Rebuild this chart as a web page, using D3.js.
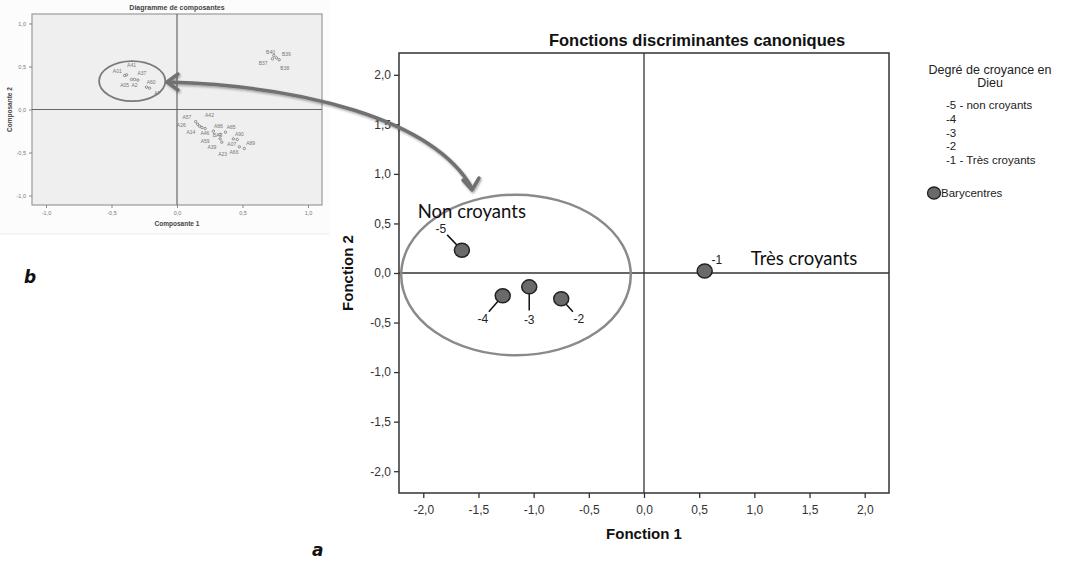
<!DOCTYPE html>
<html>
<head>
<meta charset="utf-8">
<script src="https://cdn.jsdelivr.net/npm/d3@7"></script>
<style>
  body { margin: 0; background: #fff; }
  svg { display: block; font-family: "Liberation Sans", Arial, sans-serif; }
</style>
</head>
<body>
<div id="chart-area"></div>
<script>

// ---- data : main chart (canonical discriminant functions) ----
var groups    = ["-5", "-4", "-3", "-2", "-1"];
var centroidX = [-1.65, -1.28, -1.04, -0.75, 0.55];
var centroidY = [0.23, -0.23, -0.14, -0.26, 0.02];
var labelX    = [-1.84, -1.46, -1.04, -0.59, 0.66];
var labelY    = [0.45, -0.46, -0.47, -0.46, 0.13];
var mainTicks = [-2.0, -1.5, -1.0, -0.5, 0.0, 0.5, 1.0, 1.5, 2.0];
var legendItems = ["-5 - non croyants", "-4", "-3", "-2", "-1 - Très croyants"];

// ---- data : inset (component plot) ----
var insetTicks = [-1.0, -0.5, 0.0, 0.5, 1.0];
var insetLabels = [
  ["A41", -0.347, 0.516], ["A01", -0.456, 0.442], ["A37", -0.268, 0.419],
  ["A05", -0.40, 0.287], ["A2", -0.324, 0.287], ["A60", -0.197, 0.318], ["A7", -0.150, 0.186],
  ["B40", 0.714, 0.667], ["B39", 0.835, 0.640], ["B37", 0.658, 0.543], ["B38", 0.823, 0.484],
  ["A57", 0.076, -0.085], ["A42", 0.248, -0.062], ["A26", 0.033, -0.186], ["A88", 0.316, -0.194],
  ["A85", 0.413, -0.205], ["A14", 0.106, -0.264], ["A46", 0.213, -0.279], ["BA3", 0.309, -0.302],
  ["A90", 0.476, -0.287], ["A59", 0.215, -0.364], ["A07", 0.418, -0.399], ["A89", 0.562, -0.388],
  ["A39", 0.266, -0.434], ["A23", 0.349, -0.516], ["A66", 0.435, -0.496]
];
var insetPoints = [
  [-0.40, 0.395], [-0.385, 0.403], [-0.347, 0.349], [-0.324, 0.349], [-0.299, 0.341],
  [-0.233, 0.26], [-0.21, 0.248],
  [0.739, 0.628], [0.759, 0.60], [0.78, 0.578], [0.729, 0.589],
  [0.142, -0.14], [0.157, -0.171], [0.172, -0.194], [0.19, -0.209], [0.215, -0.221],
  [0.278, -0.252], [0.37, -0.264], [0.329, -0.29], [0.329, -0.341], [0.342, -0.38],
  [0.43, -0.341], [0.46, -0.349], [0.476, -0.434], [0.514, -0.453]
];

var fmt = function(d) { return d3.format(".1f")(d).replace(".", ",").replace("−", "-"); };

var svg = d3.select("#chart-area").append("svg")
    .attr("width", 1078)
    .attr("height", 566);

svg.append("rect").attr("width", 1078).attr("height", 566).attr("fill", "#fff");

// ================= main chart =================
var margin = {top: 53, left: 399};
var width = 490, height = 440;

var x = d3.scaleLinear().domain([-2.22, 2.22]).range([0, width]);
var y = d3.scaleLinear().domain([-2.22, 2.22]).range([height, 0]);

var g = svg.append("g")
    .attr("transform", "translate(" + margin.left + "," + margin.top + ")");

g.append("g")
    .attr("class", "axis x-axis")
    .attr("transform", "translate(0," + height + ")")
    .call(d3.axisBottom(x).tickValues(mainTicks).tickFormat(fmt).tickSize(5).tickSizeOuter(0));

g.append("g")
    .attr("class", "axis y-axis")
    .call(d3.axisLeft(y).tickValues(mainTicks).tickFormat(fmt).tickSize(5).tickSizeOuter(0));

g.selectAll(".axis path").remove();
g.selectAll(".axis line").attr("stroke", "#333").attr("stroke-width", 1.3);
g.selectAll(".axis text")
    .attr("fill", "#333")
    .style("font-size", "12px");
g.selectAll(".x-axis text").attr("dy", "1.1em");

// frame + zero lines
g.append("rect")
    .attr("width", width).attr("height", height)
    .attr("fill", "none").attr("stroke", "#333").attr("stroke-width", 1.5);
g.append("line")
    .attr("x1", x(0)).attr("x2", x(0)).attr("y1", 0).attr("y2", height)
    .attr("stroke", "#333").attr("stroke-width", 1.3);
g.append("line")
    .attr("x1", 0).attr("x2", width).attr("y1", y(0)).attr("y2", y(0))
    .attr("stroke", "#333").attr("stroke-width", 1.3);

// big ellipse round the non believers
g.append("ellipse")
    .attr("cx", x(-1.16)).attr("cy", y(-0.02))
    .attr("rx", x(1.04) - x(0)).attr("ry", y(0) - y(0.81))
    .attr("fill", "none").attr("stroke", "#8a8a8a").attr("stroke-width", 2.5);

// leader lines, points and labels
var pts = groups.map(function(d, i) {
  return {g: d, x: centroidX[i], y: centroidY[i], lx: labelX[i], ly: labelY[i]};
});

g.selectAll(".leader").data(pts).enter().append("line")
    .attr("class", "leader")
    .attr("x1", function(d) { return x(d.x); })
    .attr("y1", function(d) { return y(d.y); })
    .attr("x2", function(d) {
      var dx = x(d.lx) - x(d.x), dy = y(d.ly) - y(d.y), l = Math.sqrt(dx*dx + dy*dy);
      return x(d.x) + dx * (l - 9) / l;
    })
    .attr("y2", function(d) {
      var dx = x(d.lx) - x(d.x), dy = y(d.ly) - y(d.y), l = Math.sqrt(dx*dx + dy*dy);
      return y(d.y) + dy * (l - 9) / l;
    })
    .attr("stroke", "#111").attr("stroke-width", 1.5);

g.selectAll(".dot").data(pts).enter().append("ellipse")
    .attr("class", "dot")
    .attr("cx", function(d) { return x(d.x); })
    .attr("cy", function(d) { return y(d.y); })
    .attr("rx", 7.5).attr("ry", 7)
    .attr("fill", "#6a6a6a").attr("stroke", "#222").attr("stroke-width", 1.5);

g.selectAll(".plabel").data(pts).enter().append("text")
    .attr("class", "plabel")
    .attr("x", function(d) { return x(d.lx); })
    .attr("y", function(d) { return y(d.ly); })
    .attr("dy", "0.35em")
    .attr("text-anchor", "middle")
    .style("font-size", "12px")
    .attr("fill", "#222")
    .text(function(d) { return d.g; });

// annotations
g.append("text")
    .attr("x", x(-1.56)).attr("y", y(0.56))
    .attr("text-anchor", "middle")
    .style("font-family", "Lato, sans-serif").style("font-size", "18.5px")
    .attr("fill", "#111")
    .text("Non croyants");
g.append("text")
    .attr("x", x(1.45)).attr("y", y(0.08))
    .attr("text-anchor", "middle")
    .style("font-family", "Lato, sans-serif").style("font-size", "18.5px")
    .attr("fill", "#111")
    .text("Très croyants");

// titles
svg.append("text")
    .attr("x", 697).attr("y", 46)
    .attr("text-anchor", "middle")
    .style("font-size", "16.5px").style("font-weight", "bold")
    .attr("fill", "#111")
    .text("Fonctions discriminantes canoniques");
svg.append("text")
    .attr("x", margin.left + x(0)).attr("y", 539)
    .attr("text-anchor", "middle")
    .style("font-size", "15px").style("font-weight", "bold")
    .attr("fill", "#111")
    .text("Fonction 1");
svg.append("text")
    .attr("transform", "translate(353," + (margin.top + y(0)) + ") rotate(-90)")
    .attr("text-anchor", "middle")
    .style("font-size", "15px").style("font-weight", "bold")
    .attr("fill", "#111")
    .text("Fonction 2");

// legend
var legend = svg.append("g").attr("transform", "translate(946,0)");
legend.append("text").attr("x", 44).attr("y", 74).attr("text-anchor", "middle")
    .style("font-size", "12.5px").attr("fill", "#222").text("Degré de croyance en");
legend.append("text").attr("x", 44).attr("y", 87).attr("text-anchor", "middle")
    .style("font-size", "12.5px").attr("fill", "#222").text("Dieu");
legend.selectAll(".item").data(legendItems).enter().append("text")
    .attr("class", "item")
    .attr("x", 0)
    .attr("y", function(d, i) { return 109 + i * 13.8; })
    .style("font-size", "11.5px").attr("fill", "#222")
    .text(function(d) { return d; });
legend.append("ellipse").attr("cx", -12).attr("cy", 193).attr("rx", 6.5).attr("ry", 6)
    .attr("fill", "#6a6a6a").attr("stroke", "#222").attr("stroke-width", 1.3);
legend.append("text").attr("x", -5).attr("y", 197)
    .style("font-size", "11.5px").attr("fill", "#222").text("Barycentres");

// ================= inset (b) =================
var inset = {left: 32, top: 14, w: 290, h: 191};
var ix = d3.scaleLinear().domain([-1.107, 1.107]).range([0, inset.w]);
var iy = d3.scaleLinear().domain([-1.11, 1.11]).range([inset.h, 0]);

svg.append("rect").attr("x", 0).attr("y", 0).attr("width", 330).attr("height", 234)
    .attr("fill", "#fcfcfc");
svg.append("line").attr("x1", 0).attr("x2", 330).attr("y1", 234).attr("y2", 234)
    .attr("stroke", "#eeeeee");

var gi = svg.append("g").attr("transform", "translate(" + inset.left + "," + inset.top + ")");
gi.append("rect").attr("width", inset.w).attr("height", inset.h)
    .attr("fill", "#efefef").attr("stroke", "#9a9a9a").attr("stroke-width", 1.2);

gi.append("g").attr("class", "iaxis")
    .attr("transform", "translate(0," + inset.h + ")")
    .call(d3.axisBottom(ix).tickValues(insetTicks).tickFormat(fmt).tickSize(3).tickSizeOuter(0));
gi.append("g").attr("class", "iaxis")
    .call(d3.axisLeft(iy).tickValues(insetTicks).tickFormat(fmt).tickSize(3).tickSizeOuter(0));
gi.selectAll(".iaxis path").remove();
gi.selectAll(".iaxis line").attr("stroke", "#888");
gi.selectAll(".iaxis text").attr("fill", "#777").style("font-size", "5.5px");

gi.append("line").attr("x1", ix(0)).attr("x2", ix(0)).attr("y1", 0).attr("y2", inset.h)
    .attr("stroke", "#666").attr("stroke-width", 1.2);
gi.append("line").attr("x1", 0).attr("x2", inset.w).attr("y1", iy(0)).attr("y2", iy(0))
    .attr("stroke", "#666").attr("stroke-width", 1.2);

gi.selectAll(".ipt").data(insetPoints).enter().append("circle")
    .attr("cx", function(d) { return ix(d[0]); })
    .attr("cy", function(d) { return iy(d[1]); })
    .attr("r", 1.2)
    .attr("fill", "none").attr("stroke", "#777").attr("stroke-width", 0.8);

gi.selectAll(".ilab").data(insetLabels).enter().append("text")
    .attr("x", function(d) { return ix(d[1]); })
    .attr("y", function(d) { return iy(d[2]); })
    .attr("dy", "0.35em")
    .attr("text-anchor", "middle")
    .style("font-size", "5px").attr("fill", "#777")
    .text(function(d) { return d[0]; });

gi.append("ellipse")
    .attr("cx", ix(-0.342)).attr("cy", iy(0.33))
    .attr("rx", ix(0.253) - ix(0)).attr("ry", iy(0) - iy(0.233))
    .attr("fill", "none").attr("stroke", "#7a7a7a").attr("stroke-width", 1.8);

svg.append("text").attr("x", inset.left + ix(0)).attr("y", 10).attr("text-anchor", "middle")
    .style("font-size", "7px").style("font-weight", "bold").attr("fill", "#444")
    .text("Diagramme de composantes");
svg.append("text").attr("x", inset.left + ix(0)).attr("y", 226).attr("text-anchor", "middle")
    .style("font-size", "6.5px").style("font-weight", "bold").attr("fill", "#444")
    .text("Composante 1");
svg.append("text")
    .attr("transform", "translate(12," + (inset.top + iy(0)) + ") rotate(-90)")
    .attr("text-anchor", "middle")
    .style("font-size", "6.5px").style("font-weight", "bold").attr("fill", "#444")
    .text("Composante 2");

// panel letters
svg.append("text").attr("x", 24).attr("y", 283)
    .style("font-family", "DejaVu Sans, sans-serif").style("font-style", "italic").style("font-weight", "bold")
    .style("font-size", "17px").attr("fill", "#111").text("b");
svg.append("text").attr("x", 312).attr("y", 556)
    .style("font-family", "DejaVu Sans, sans-serif").style("font-style", "italic").style("font-weight", "bold")
    .style("font-size", "17px").attr("fill", "#111").text("a");

// ================= curved double arrow =================
var defs = svg.append("defs");
defs.append("filter").attr("id", "shadow")
  .append("feDropShadow").attr("dx", 1).attr("dy", 1.5).attr("stdDeviation", 1.2)
    .attr("flood-color", "#000").attr("flood-opacity", 0.35);

var arrow = svg.append("g").attr("filter", "url(#shadow)")
    .attr("fill", "none").attr("stroke", "#717171").attr("stroke-width", 3.5)
    .attr("stroke-linecap", "round").attr("stroke-linejoin", "round");
arrow.append("path").attr("d", "M168,82 C300,86 432,118 472,188");
arrow.append("path").attr("d", "M178,74 L167,82 L178,90");
arrow.append("path").attr("d", "M463,180 L472,190 L479,178");

</script>
</body>
</html>
